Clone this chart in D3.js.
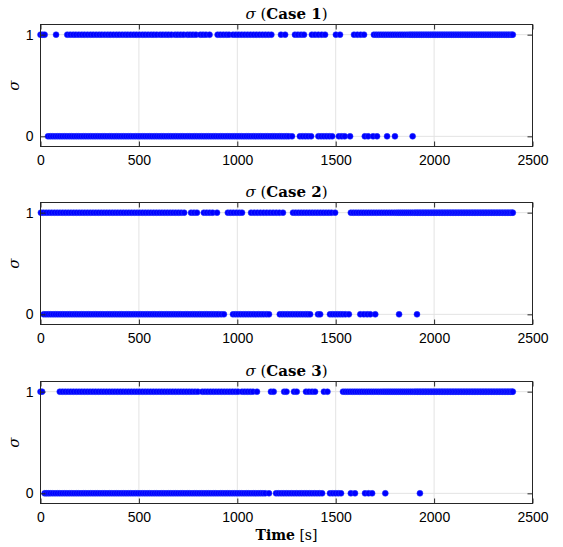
<!DOCTYPE html>
<html><head><meta charset="utf-8">
<script src="https://cdn.jsdelivr.net/npm/d3@7"></script>
<style>body{margin:0;background:#fff}svg{display:block}</style>
</head><body><svg id="c" width="563" height="547"></svg>
<script>
const xTicks = [0, 500, 1000, 1500, 2000, 2500];
const yTicks = [0, 1];
const caseTitles = ["Case 1", "Case 2", "Case 3"];
const xLabelBold = "Time";
const xLabelUnit = "[s]";
const yLabel = "σ";

// times [s] at which sigma = 1 / sigma = 0
const case1One = [0, 10, 21, 79, 136, 151, 166, 180, 195, 210, 224, 239, 254, 268, 283, 298, 312, 327, 342, 356, 371, 386, 400, 415, 430, 444, 459, 474, 488, 503, 518, 532, 547, 562, 576, 591, 608, 622, 637, 651, 666, 684, 698, 713, 728, 746, 760, 775, 790, 812, 826, 841, 859, 900, 914, 929, 944, 958, 978, 993, 1008, 1023, 1038, 1053, 1068, 1083, 1098, 1113, 1128, 1143, 1158, 1173, 1222, 1243, 1293, 1308, 1324, 1339, 1379, 1395, 1412, 1429, 1446, 1501, 1522, 1593, 1610, 1627, 1644, 1694, 1706, 1718, 1730, 1742, 1754, 1766, 1778, 1790, 1802, 1814, 1826, 1838, 1850, 1862, 1873, 1882, 1891, 1900, 1909, 1918, 1927, 1936, 1945, 1954, 1963, 1972, 1981, 1990, 1999, 2008, 2017, 2026, 2035, 2044, 2053, 2062, 2071, 2080, 2089, 2098, 2107, 2116, 2125, 2134, 2143, 2152, 2161, 2170, 2179, 2188, 2197, 2206, 2215, 2224, 2233, 2242, 2251, 2260, 2269, 2278, 2287, 2296, 2305, 2314, 2323, 2332, 2341, 2350, 2359, 2368, 2377, 2386, 2395, 2400];
const case1Zero = [38, 50, 62, 74, 86, 98, 110, 122, 134, 146, 158, 170, 182, 194, 206, 218, 230, 242, 254, 266, 278, 290, 302, 314, 326, 338, 350, 362, 374, 386, 398, 410, 422, 434, 446, 458, 470, 482, 494, 506, 518, 530, 542, 554, 566, 578, 590, 602, 614, 626, 638, 650, 662, 674, 686, 698, 710, 722, 734, 746, 758, 770, 782, 794, 806, 818, 830, 842, 854, 866, 878, 890, 902, 914, 926, 938, 950, 962, 974, 986, 998, 1010, 1022, 1034, 1046, 1058, 1070, 1082, 1094, 1106, 1118, 1130, 1142, 1154, 1166, 1178, 1190, 1202, 1214, 1226, 1238, 1250, 1262, 1278, 1318, 1332, 1346, 1360, 1375, 1412, 1426, 1440, 1454, 1468, 1482, 1516, 1531, 1546, 1573, 1648, 1665, 1690, 1710, 1761, 1801, 1891];

const case2One = [2, 15, 29, 43, 57, 71, 85, 99, 113, 127, 141, 155, 169, 183, 197, 211, 225, 239, 253, 267, 281, 295, 309, 323, 337, 351, 365, 379, 393, 407, 421, 435, 449, 463, 477, 491, 505, 519, 533, 547, 561, 575, 589, 603, 617, 631, 645, 659, 673, 687, 701, 715, 730, 765, 780, 795, 830, 845, 860, 875, 897, 952, 966, 980, 995, 1010, 1024, 1070, 1086, 1102, 1118, 1134, 1150, 1166, 1182, 1198, 1214, 1232, 1283, 1297, 1311, 1325, 1339, 1353, 1367, 1381, 1395, 1409, 1423, 1437, 1451, 1465, 1479, 1497, 1577, 1590, 1603, 1616, 1629, 1642, 1655, 1668, 1681, 1694, 1707, 1720, 1733, 1746, 1759, 1772, 1785, 1798, 1810, 1820, 1830, 1840, 1850, 1860, 1870, 1880, 1890, 1900, 1908, 1916, 1924, 1932, 1940, 1948, 1956, 1964, 1972, 1980, 1988, 1996, 2004, 2012, 2020, 2028, 2036, 2044, 2052, 2060, 2068, 2076, 2084, 2092, 2100, 2108, 2116, 2124, 2132, 2140, 2148, 2156, 2164, 2172, 2180, 2188, 2196, 2204, 2212, 2220, 2228, 2236, 2244, 2252, 2260, 2268, 2276, 2284, 2292, 2300, 2308, 2316, 2324, 2332, 2340, 2348, 2356, 2364, 2372, 2380, 2388, 2396, 2400];
const case2Zero = [16, 28, 40, 52, 64, 76, 88, 100, 112, 124, 136, 148, 160, 172, 184, 196, 208, 220, 232, 244, 256, 268, 280, 292, 304, 316, 328, 340, 352, 364, 376, 388, 400, 412, 424, 436, 448, 460, 472, 484, 496, 508, 520, 532, 544, 556, 568, 580, 592, 604, 616, 628, 640, 652, 664, 676, 688, 700, 712, 724, 736, 748, 760, 772, 784, 796, 808, 820, 832, 844, 856, 868, 880, 892, 904, 918, 932, 978, 991, 1004, 1017, 1030, 1043, 1056, 1069, 1082, 1095, 1108, 1121, 1134, 1148, 1161, 1216, 1229, 1242, 1255, 1268, 1281, 1294, 1307, 1320, 1333, 1346, 1358, 1370, 1410, 1421, 1471, 1484, 1497, 1510, 1523, 1536, 1550, 1567, 1625, 1643, 1660, 1676, 1701, 1822, 1913];

const case3One = [0, 8, 98, 112, 126, 140, 154, 168, 182, 196, 210, 224, 238, 252, 266, 280, 294, 308, 322, 336, 350, 364, 378, 392, 406, 420, 434, 448, 462, 476, 490, 504, 518, 532, 546, 560, 574, 588, 602, 616, 630, 644, 658, 672, 686, 700, 714, 728, 742, 756, 770, 785, 800, 822, 836, 850, 864, 878, 892, 906, 920, 934, 948, 962, 976, 990, 1004, 1024, 1038, 1052, 1066, 1080, 1100, 1171, 1185, 1238, 1250, 1288, 1302, 1349, 1364, 1380, 1395, 1440, 1458, 1537, 1549, 1561, 1573, 1585, 1597, 1609, 1621, 1633, 1645, 1657, 1669, 1681, 1693, 1705, 1717, 1729, 1740, 1750, 1760, 1770, 1780, 1790, 1800, 1810, 1820, 1830, 1840, 1850, 1860, 1870, 1880, 1890, 1900, 1908, 1916, 1924, 1932, 1940, 1948, 1956, 1964, 1972, 1980, 1988, 1996, 2004, 2012, 2020, 2028, 2036, 2044, 2052, 2060, 2068, 2076, 2084, 2092, 2100, 2108, 2116, 2124, 2132, 2140, 2148, 2156, 2164, 2172, 2180, 2188, 2196, 2204, 2212, 2220, 2228, 2236, 2244, 2252, 2260, 2268, 2276, 2284, 2292, 2300, 2308, 2316, 2324, 2332, 2340, 2348, 2356, 2364, 2372, 2380, 2388, 2396, 2400];
const case3Zero = [21, 30, 40, 50, 62, 74, 86, 98, 110, 122, 134, 146, 158, 170, 182, 194, 206, 218, 230, 242, 254, 266, 278, 290, 302, 314, 326, 338, 350, 362, 374, 386, 398, 410, 422, 434, 446, 458, 470, 482, 494, 506, 518, 530, 542, 554, 566, 578, 590, 602, 614, 626, 638, 650, 662, 674, 686, 698, 710, 722, 734, 746, 758, 770, 782, 794, 806, 818, 830, 842, 854, 866, 878, 890, 902, 914, 926, 938, 950, 962, 974, 986, 998, 1010, 1022, 1034, 1046, 1058, 1070, 1082, 1094, 1106, 1118, 1130, 1142, 1161, 1197, 1210, 1223, 1236, 1249, 1262, 1275, 1288, 1301, 1314, 1327, 1340, 1353, 1366, 1379, 1392, 1405, 1418, 1431, 1471, 1485, 1499, 1513, 1527, 1577, 1598, 1649, 1667, 1685, 1752, 1928];

const panels = [
  { title: caseTitles[0], one: case1One, zero: case1Zero },
  { title: caseTitles[1], one: case2One, zero: case2Zero },
  { title: caseTitles[2], one: case3One, zero: case3Zero }
];

const svg = d3.select("#c");
const left = 40.5, right = 532.5;
const tops = [24.5, 202.5, 381.5];
const ph = 122;
const axisColor = "#262626";
const gridColor = "#e3e3e3";
const sans = "'Liberation Sans', Arial, Helvetica, sans-serif";
const serif = "'DejaVu Serif', serif";

const x = d3.scaleLinear().domain([0, 2500]).range([left, right]);

panels.forEach((p, i) => {
  const top = tops[i];
  const bottom = top + ph;
  const y = d3.scaleLinear().domain([-0.1, 1.1]).range([bottom, top]);
  const g = svg.append("g");

  // grid
  g.selectAll("line.vg").data(xTicks).join("line")
    .attr("x1", d => x(d)).attr("x2", d => x(d))
    .attr("y1", top).attr("y2", bottom)
    .attr("stroke", gridColor).attr("stroke-width", 1);
  g.selectAll("line.hg").data(yTicks).join("line")
    .attr("x1", left).attr("x2", right)
    .attr("y1", d => y(d)).attr("y2", d => y(d))
    .attr("stroke", gridColor).attr("stroke-width", 1);

  // points
  const pts = p.one.map(t => ({ t, v: 1 })).concat(p.zero.map(t => ({ t, v: 0 })));
  g.append("g").selectAll("circle").data(pts).join("circle")
    .attr("cx", d => x(d.t)).attr("cy", d => y(d.v)).attr("r", 3)
    .attr("fill", "#0000ff").attr("stroke", "#2a3cff").attr("stroke-width", 0.5);

  // axes
  const ax = [
    { a: d3.axisBottom(x).tickValues(xTicks).tickSize(-5).tickPadding(9).tickFormat(d3.format("d")), t: `translate(0,${bottom})` },
    { a: d3.axisTop(x).tickValues(xTicks).tickSize(-5).tickFormat(""), t: `translate(0,${top})` },
    { a: d3.axisLeft(y).tickValues(yTicks).tickSize(-5).tickPadding(7).tickFormat(d3.format("d")), t: `translate(${left},0)` },
    { a: d3.axisRight(y).tickValues(yTicks).tickSize(-5).tickFormat(""), t: `translate(${right},0)` }
  ];
  ax.forEach(o => {
    const ag = g.append("g").attr("transform", o.t).call(o.a);
    ag.select(".domain").remove();
    ag.selectAll(".tick line").attr("stroke", axisColor);
    ag.selectAll(".tick text").attr("fill", "#000").style("font-family", sans).style("font-size", "14px");
  });

  // frame
  g.append("rect").attr("x", left).attr("y", top).attr("width", right - left).attr("height", ph)
    .attr("fill", "none").attr("stroke", axisColor).attr("stroke-width", 1);

  // title
  const tt = svg.append("text").attr("x", (left + right) / 2).attr("y", top - 6)
    .attr("text-anchor", "middle").style("font-family", serif).style("font-size", "15px").attr("fill", "#000");
  tt.append("tspan").style("font-style", "italic").text("σ");
  tt.append("tspan").text(" (");
  tt.append("tspan").style("font-weight", "bold").text(p.title);
  tt.append("tspan").text(")");

  // y label
  svg.append("text").attr("transform", `translate(19,${(top + bottom) / 2}) rotate(-90)`)
    .attr("text-anchor", "middle").style("font-family", serif).style("font-style", "italic")
    .style("font-size", "15px").attr("fill", "#000").text(yLabel);
});

const xl = svg.append("text").attr("x", (left + right) / 2).attr("y", 540)
  .attr("text-anchor", "middle").style("font-family", serif).style("font-size", "14px").attr("fill", "#000");
xl.append("tspan").style("font-weight", "bold").text(xLabelBold);
xl.append("tspan").text(" " + xLabelUnit);
</script>
</body></html>
